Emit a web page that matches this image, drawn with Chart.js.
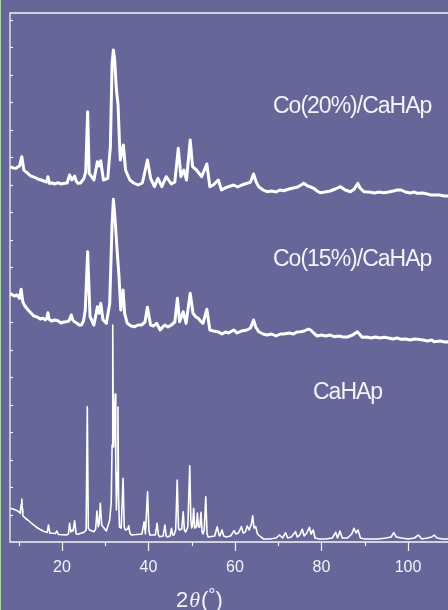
<!DOCTYPE html>
<html>
<head>
<meta charset="utf-8">
<script src="https://cdn.jsdelivr.net/npm/chart.js@4.4.0/dist/chart.umd.min.js"></script>
<style>
  html, body { margin: 0; padding: 0; overflow: hidden; }
  body { background: #666699; border-left: 1px solid #a6d8a0; width: 447px; height: 610px; }
  canvas { display: block; }
</style>
</head>
<body>
<canvas id="xrd" width="470" height="610"></canvas>
<script>
// 2theta positions (deg) and intensities (a.u.)
const caTheta = [8.1, 9.0, 9.8, 10.34, 10.6, 10.73, 10.85, 10.96, 11.5, 12.1, 12.9, 13.67, 14.4, 15.2, 15.9, 16.6, 16.9, 17.2, 18.5, 18.84, 19.2, 21.0, 21.5, 21.78, 22.05, 22.3, 22.6, 22.93, 23.3, 23.7, 25.1, 25.6, 25.87, 26.1, 26.4, 27.4, 27.8, 28.1, 28.4, 28.6, 28.88, 29.2, 29.5, 30.27, 31.05, 31.4, 31.6, 31.75, 31.85, 31.95, 32.15, 32.3, 32.45, 32.6, 32.8, 32.95, 33.1, 33.3, 33.7, 34.14, 34.4, 34.67, 35.2, 35.45, 35.7, 36.07, 38.5, 39.0, 39.3, 39.8, 40.1, 40.32, 41.6, 42.0, 42.3, 42.6, 43.4, 43.8, 44.1, 44.4, 45.0, 45.33, 45.6, 45.9, 46.3, 46.65, 46.95, 47.2, 47.7, 48.04, 48.3, 48.6, 49.1, 49.55, 49.8, 50.0, 50.2, 50.45, 50.7, 50.9, 51.1, 51.32, 51.55, 51.7, 51.9, 52.15, 52.4, 52.6, 52.9, 53.25, 53.55, 53.8, 55.3, 55.9, 56.3, 56.5, 57.0, 57.4, 58.0, 59.0, 59.8, 60.2, 60.8, 61.5, 61.9, 62.4, 62.85, 63.3, 63.8, 64.1, 64.4, 64.8, 65.2, 66.0, 66.6, 68.0, 69.5, 70.3, 71.0, 71.7, 72.2, 73.0, 74.0, 74.4, 75.0, 75.55, 76.0, 76.6, 77.2, 77.6, 78.1, 78.5, 79.5, 81.0, 82.5, 83.27, 83.7, 84.27, 84.8, 86.0, 87.0, 87.5, 88.0, 88.44, 89.0, 90.0, 93.0, 95.0, 96.1, 96.7, 97.3, 98.5, 100.0, 101.5, 102.4, 103.2, 104.5, 105.5, 106.05, 106.7, 108.0, 110.0, 112.0, 114.0]
const caInt = [33.7, 32.5, 31, 28.7, 38, 43, 33, 26.3, 24, 22, 19, 16.3, 14, 12, 10.5, 9.7, 17, 9, 8.5, 11, 7.5, 7, 8, 18.7, 10, 12, 11, 21.3, 8, 7.7, 9.7, 12, 135.3, 14, 12, 10.3, 13, 31, 15.3, 18, 38.7, 17, 15.3, 11, 22, 40, 97, 217, 140, 95, 120, 148, 80, 32, 70, 135, 45, 15, 14, 63.7, 15, 12, 13, 16.3, 9, 7, 8, 20.3, 8, 50.3, 12, 7, 7, 18.7, 7, 5.3, 6, 17, 6, 5, 6, 13.7, 7, 7, 12, 62, 14, 12, 13, 30.3, 12, 10, 15, 76.3, 22, 14, 16, 33.7, 14, 14, 16, 29, 15, 15, 17, 29.7, 10, 8, 12, 45.3, 8, 5, 6, 15.3, 7, 6, 12, 6, 5, 6, 11.3, 8, 9, 15.3, 9, 10, 16, 12, 18, 26.3, 14, 15.3, 8, 5, 3, 3, 4, 7, 4, 9.3, 4, 5, 10.3, 5, 7, 12.7, 6, 9, 14.7, 8, 12, 4, 3, 3, 4, 9.7, 4, 11, 4, 4, 8, 13.7, 9, 12, 4, 3, 3, 4, 5, 9.3, 5, 4, 3, 4, 7, 3, 4, 5, 7, 4, 3, 3, 3, 3]

const co15Theta = [8.1, 8.6, 9.03, 9.6, 10.2, 10.57, 10.96, 11.3, 11.8, 12.4, 12.9, 13.5, 14.0, 14.4, 15.0, 15.6, 16.2, 16.5, 16.76, 17.0, 17.6, 18.3, 19.07, 19.8, 20.4, 21.0, 21.6, 22.16, 22.5, 22.9, 23.4, 24.0, 24.5, 25.0, 25.4, 25.95, 26.5, 27.4, 28.2, 28.6, 28.97, 29.5, 30.27, 31.05, 31.6, 31.9, 32.3, 32.75, 33.2, 33.6, 34.14, 34.5, 35.1, 36.0, 36.84, 37.6, 38.4, 39.2, 39.77, 40.5, 41.2, 41.9, 42.7, 43.3, 43.8, 44.5, 45.3, 46.1, 46.7, 47.2, 48.04, 48.7, 49.66, 50.3, 51.0, 51.5, 52.0, 52.6, 53.5, 54.2, 55.0, 56.1, 57.0, 57.8, 58.5, 59.7, 60.5, 61.5, 62.8, 63.6, 64.3, 64.8, 65.5, 66.5, 67.4, 68.5, 69.5, 70.5, 71.3, 72.5, 73.5, 74.3, 75.2, 76.0, 77.0, 77.5, 78.2, 79.0, 80.0, 81.0, 82.0, 82.9, 84.0, 85.0, 86.0, 87.2, 88.3, 89.4, 90.5, 91.5, 92.5, 93.5, 94.5, 95.5, 96.5, 97.5, 98.4, 99.5, 100.5, 101.5, 102.2, 103.5, 104.5, 105.5, 106.05, 107.5, 108.5, 109.45, 111.0, 114.0]
const co15Int = [53.7, 52, 51, 52, 48.7, 57.7, 45.3, 42, 39, 36, 33.7, 31, 30.5, 29.7, 28, 28.7, 27, 29, 34.3, 28, 26, 27, 26.3, 24, 25, 25.3, 26, 32, 27, 25.3, 24, 22, 22, 26, 37, 95.3, 30.3, 22, 40.3, 33.7, 43.7, 27, 23.7, 43.7, 123.7, 147.7, 127, 97, 70.3, 37, 57, 33.7, 23.7, 21, 20.3, 22, 22, 25, 39.7, 22, 21, 23.7, 17, 20, 22, 20, 22, 25, 48.7, 25.3, 35.3, 23.7, 53.7, 33.7, 30, 28.7, 26, 23.7, 37.7, 17, 16, 15.3, 13, 15, 14, 17, 14, 16, 17, 19, 27, 20, 15.3, 13, 12, 13, 11, 13, 13, 14, 13, 15, 15.3, 16, 18, 17, 14, 11, 12, 11, 12, 10.3, 11, 10, 10, 12, 15.3, 9.7, 10, 9, 10, 9, 9.7, 9, 8, 9, 7.7, 8, 7, 8, 7.7, 7, 6, 7, 5.3, 6, 5, 5.3, 5, 5]

const co20Theta = [8.1, 8.7, 9.4, 9.8, 10.2, 10.73, 11.2, 11.7, 12.1, 12.8, 13.67, 14.4, 15.2, 15.8, 16.5, 16.76, 17.1, 17.8, 18.4, 19.07, 19.8, 20.6, 21.2, 21.78, 22.3, 22.93, 23.3, 23.7, 24.3, 25.1, 25.5, 25.95, 26.3, 27.4, 28.2, 28.6, 28.97, 29.6, 30.6, 31.2, 31.6, 31.9, 32.2, 32.6, 32.98, 33.3, 33.5, 34.2, 34.7, 35.7, 36.6, 37.6, 38.6, 39.77, 40.5, 41.4, 42.2, 43.1, 44.1, 45.3, 46.1, 46.9, 47.5, 48.2, 48.8, 49.66, 50.2, 51.1, 52.3, 53.5, 54.2, 55.0, 56.15, 56.9, 57.7, 58.5, 59.7, 60.6, 61.6, 62.8, 63.6, 64.3, 64.9, 65.5, 66.5, 67.4, 68.5, 69.5, 70.4, 71.3, 72.5, 73.5, 74.5, 75.3, 75.9, 76.8, 77.5, 78.2, 79.0, 79.7, 80.8, 82.0, 83.2, 84.4, 85.5, 86.7, 87.6, 88.4, 88.9, 89.8, 91.0, 92.2, 93.3, 94.4, 95.5, 96.6, 97.5, 98.4, 99.4, 100.5, 101.4, 102.2, 103.4, 104.5, 105.3, 106.05, 107.3, 108.4, 109.45, 111.0, 114.0]
const co20Int = [35.3, 34, 33.7, 35, 36, 45.3, 32, 30, 28.7, 26, 24.7, 23, 22, 21, 20, 25.3, 18.7, 19, 18, 19.3, 18, 18.7, 19, 27, 22, 26, 21, 18.7, 19, 23.7, 30, 90.3, 28.7, 22, 40.3, 36, 41.3, 22, 23.7, 55.3, 138.7, 152, 142, 112, 97, 60, 42, 57, 32, 22, 19, 17, 19, 42, 23.7, 15.3, 23.7, 15.3, 25.3, 18, 20, 53.7, 25.3, 32, 22, 62, 35.3, 32, 25.3, 38, 15.3, 17, 22, 12, 14, 15.3, 17, 15, 17, 18.7, 20, 28, 20, 15.3, 12, 10.3, 11, 10, 12, 11.3, 13, 14, 15, 17, 18.7, 16, 15, 13.7, 11, 9.3, 10, 11, 13, 15.3, 12, 10.3, 13, 18.7, 14, 10.3, 10, 9, 10, 9.3, 10, 11, 12, 12, 10, 9, 10, 8.7, 9, 8, 7, 7, 7, 6, 6, 6, 6]

const sampleNames = ['CaHAp', 'Co(15%)/CaHAp', 'Co(20%)/CaHAp']
const xTicks = [20, 40, 60, 80, 100]

const toPoints = (theta, counts, shift) => theta.map((t, i) => ({ x: t, y: counts[i] + shift }))

const ink = '#f4f4f8'

const decor = {
  id: 'decor',
  afterDraw(chart) {
    const { ctx, chartArea: a, scales: { x, y } } = chart
    ctx.save()
    ctx.strokeStyle = ink
    ctx.lineWidth = 1.3
    ctx.beginPath()
    ctx.moveTo(chart.width, a.top)
    ctx.lineTo(a.left, a.top)
    ctx.lineTo(a.left, a.bottom)
    ctx.lineTo(chart.width, a.bottom)
    ctx.stroke()

    // x ticks, major every 20, minor in between
    ctx.lineWidth = 1.2
    for (let v = 10; v <= 110; v += 10) {
      const px = Math.round(x.getPixelForValue(v)) + 0.5
      const len = v % 20 === 0 ? 9 : 4
      ctx.beginPath()
      ctx.moveTo(px, a.bottom)
      ctx.lineTo(px, a.bottom + len)
      ctx.stroke()
    }
    // left axis ticks pointing inward
    for (let v = 27.5; v < y.max; v += 27.5) {
      const py = Math.round(y.getPixelForValue(v)) + 0.5
      ctx.beginPath()
      ctx.moveTo(a.left, py)
      ctx.lineTo(a.left + 3, py)
      ctx.stroke()
    }

    ctx.fillStyle = ink
    ctx.font = '16px "Liberation Sans", Arial, sans-serif'
    ctx.textAlign = 'center'
    ctx.textBaseline = 'middle'
    xTicks.forEach(v => ctx.fillText(String(v), x.getPixelForValue(v), a.bottom + 26))

    // sample names
    ctx.font = '23px "Liberation Sans", Arial, sans-serif'
    ctx.letterSpacing = '-1px'
    ctx.textAlign = 'left'
    ctx.fillText(sampleNames[2], 272, 107)
    ctx.fillText(sampleNames[1], 272, 260)
    ctx.fillText(sampleNames[0], 312, 393)
    ctx.letterSpacing = '0px'

    // axis title 2θ(°)
    let cx = 175
    const base = 607
    ctx.textBaseline = 'alphabetic'
    ctx.font = '22px "Liberation Sans", Arial, sans-serif'
    ctx.fillText('2', cx, base)
    cx += ctx.measureText('2').width + 1
    ctx.font = 'italic 22px "Liberation Serif", serif'
    ctx.fillText('θ', cx, base)
    cx += ctx.measureText('θ').width + 1
    ctx.font = '22px "Liberation Sans", Arial, sans-serif'
    ctx.fillText('(', cx, base)
    cx += ctx.measureText('(').width
    ctx.font = '18px "Liberation Sans", Arial, sans-serif'
    ctx.fillText('°', cx, base - 6)
    cx += ctx.measureText('°').width
    ctx.font = '22px "Liberation Sans", Arial, sans-serif'
    ctx.fillText(')', cx, base)
    ctx.restore()
  }
}

new Chart('xrd', {
  type: 'line',
  data: {
    datasets: [
      { label: sampleNames[0], data: toPoints(caTheta, caInt, 0), borderColor: '#ffffff', borderWidth: 1.6 },
      { label: sampleNames[1], data: toPoints(co15Theta, co15Int, 195), borderColor: '#ffffff', borderWidth: 3 },
      { label: sampleNames[2], data: toPoints(co20Theta, co20Int, 340), borderColor: '#ffffff', borderWidth: 3 }
    ]
  },
  options: {
    responsive: false,
    animation: false,
    devicePixelRatio: 1,
    layout: { padding: { left: 9, top: 13, right: 2, bottom: 68 } },
    elements: { point: { radius: 0 }, line: { tension: 0, borderJoinStyle: 'round' } },
    plugins: { legend: { display: false }, tooltip: { enabled: false } },
    scales: {
      x: { type: 'linear', min: 8, max: 114.1, display: false },
      y: { min: 0, max: 529, display: false }
    }
  },
  plugins: [decor]
})
</script>
</body>
</html>
